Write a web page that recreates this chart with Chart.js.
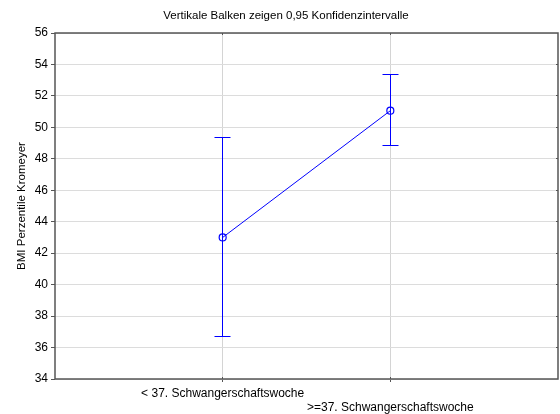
<!DOCTYPE html>
<html>
<head>
<meta charset="utf-8">
<script src="https://cdn.jsdelivr.net/npm/chart.js@4/dist/chart.umd.min.js"></script>
<style>
html,body{margin:0;padding:0;background:#fff;}
#wrap{width:560px;height:414px;}
</style>
</head>
<body>
<div id="wrap"><canvas id="c" width="560" height="414"></canvas></div>
<script>
const titleText = 'Vertikale Balken zeigen 0,95 Konfidenzintervalle';
const yAxisTitle = 'BMI Perzentile Kromeyer';
const categories = ['< 37. Schwangerschaftswoche', '>=37. Schwangerschaftswoche'];
const means = [43.0, 51.06];
const ciLower = [36.7, 48.85];
const ciUpper = [49.37, 53.33];
const yMin = 34, yMax = 56, yStep = 2;

const FONT = 'Arial, "Liberation Sans", sans-serif';
const BLUE = 'rgb(0,0,255)';

const points = categories.map((c, i) => ({x: i + 1, y: means[i]}));

function align(p) { return Math.round(p - 0.5) + 0.5; }

const errorBars = {
  id: 'errorBars',
  afterDatasetsDraw(chart) {
    const ctx = chart.ctx, xs = chart.scales.x, ys = chart.scales.y;
    ctx.save();
    ctx.strokeStyle = BLUE;
    ctx.lineWidth = 1;
    ctx.setLineDash([]);
    categories.forEach((c, i) => {
      const px = align(xs.getPixelForValue(i + 1));
      const lo = align(ys.getPixelForValue(ciLower[i]));
      const hi = align(ys.getPixelForValue(ciUpper[i]));
      ctx.beginPath();
      ctx.moveTo(px, lo); ctx.lineTo(px, hi);
      ctx.moveTo(px - 8, lo); ctx.lineTo(px + 8, lo);
      ctx.moveTo(px - 8, hi); ctx.lineTo(px + 8, hi);
      ctx.stroke();
    });
    ctx.restore();
  }
};

const frame = {
  id: 'frame',
  afterDraw(chart) {
    const a = chart.chartArea, ctx = chart.ctx, ys = chart.scales.y, xs = chart.scales.x;
    ctx.save();
    ctx.strokeStyle = '#555555';
    ctx.lineWidth = 1.5;
    ctx.strokeRect(a.left, a.top, a.right - a.left, a.bottom - a.top);
    ctx.lineWidth = 1;
    ctx.beginPath();
    for (let v = yMin + yStep; v < yMax; v += yStep) {
      const py = align(ys.getPixelForValue(v));
      ctx.moveTo(a.right - 2, py); ctx.lineTo(a.right, py);
    }
    categories.forEach((c, i) => {
      const px = align(xs.getPixelForValue(i + 1));
      ctx.moveTo(px, a.top); ctx.lineTo(px, a.top + 2);
      ctx.moveTo(px, a.bottom); ctx.lineTo(px, a.bottom - 2);
    });
    ctx.stroke();
    // chart title
    ctx.fillStyle = '#000';
    ctx.font = '11.5px ' + FONT;
    ctx.textAlign = 'center';
    ctx.textBaseline = 'middle';
    ctx.fillText(titleText, 286, 15.5);
    ctx.restore();
  }
};

new Chart(document.getElementById('c'), {
  type: 'scatter',
  data: {
    datasets: [{
      data: points,
      showLine: true,
      borderColor: BLUE,
      borderWidth: 1,
      backgroundColor: 'rgba(0,0,0,0)',
      pointBorderColor: BLUE,
      pointBackgroundColor: 'rgba(0,0,0,0)',
      pointBorderWidth: 1.2,
      pointRadius: 3.5,
      pointHoverRadius: 3.5
    }]
  },
  options: {
    responsive: false,
    animation: false,
    events: [],
    layout: {autoPadding: false, padding: {left: 0, right: 2, top: 33, bottom: 0}},
    plugins: {
      legend: {display: false},
      tooltip: {enabled: false},
      title: {display: false}
    },
    scales: {
      x: {
        type: 'linear',
        min: 0, max: 3,
        afterBuildTicks(scale) { scale.ticks = [{value: 1}, {value: 2}]; },
        afterFit(scale) { scale.height = 35; },
        border: {display: false},
        grid: {color: '#d4d4d4', lineWidth: 1, tickLength: 3, tickColor: '#555', drawTicks: true},
        ticks: {
          color: '#000',
          font: {family: FONT, size: 12, lineHeight: 1.1},
          padding: 5.5,
          maxRotation: 0,
          autoSkip: false,
          callback(v) {
            if (v === 1) return categories[0];
            if (v === 2) return ['', categories[1]];
            return '';
          }
        }
      },
      y: {
        min: yMin, max: yMax,
        afterFit(scale) { scale.width = 55; },
        border: {display: false},
        grid: {color: '#dcdcdc', lineWidth: 1, tickLength: 4, tickColor: '#555'},
        ticks: {
          stepSize: yStep,
          color: '#000',
          font: {family: FONT, size: 12},
          padding: 3
        },
        title: {
          display: true,
          text: yAxisTitle,
          color: '#000',
          font: {family: FONT, size: 11.5},
          padding: {top: 15, bottom: 0}
        }
      }
    }
  },
  plugins: [errorBars, frame]
});
</script>
</body>
</html>
